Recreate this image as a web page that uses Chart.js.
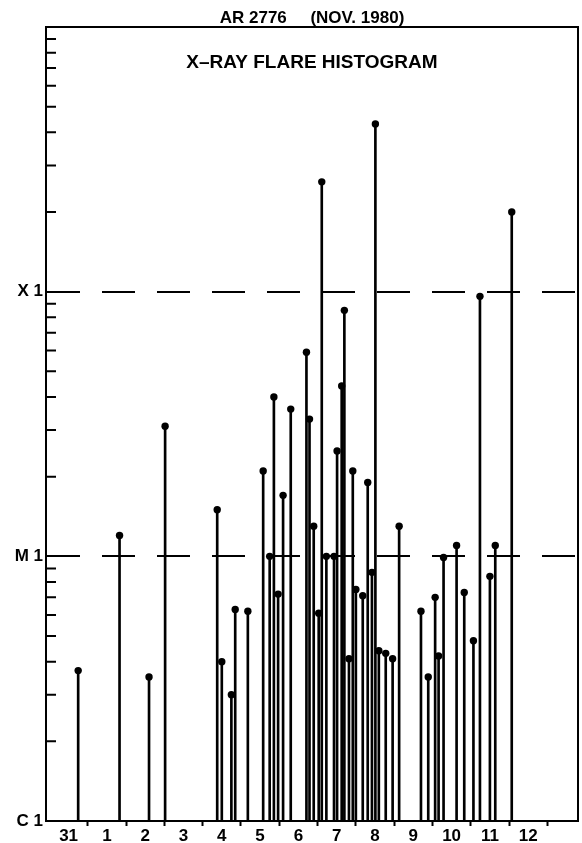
<!DOCTYPE html>
<html>
<head>
<meta charset="utf-8">
<title>AR 2776 X-ray flare histogram</title>
<script src="https://cdn.jsdelivr.net/npm/chart.js@4.4.1/dist/chart.umd.min.js"></script>
<style>
  html, body { margin: 0; padding: 0; background: #fff; }
</style>
</head>
<body>
<canvas id="flareChart" width="582" height="843"></canvas>
<script>
// flare time in days: 0-1 = Oct 31, 1-2 = Nov 1, ... (UT)
const flareDay = [0.75, 1.83, 2.60, 3.02, 4.38, 4.50, 4.75, 4.85, 5.18, 5.58, 5.75, 5.86, 5.97,
  6.10, 6.30, 6.71, 6.79, 6.90, 7.03, 7.11, 7.23, 7.43, 7.51, 7.63, 7.70, 7.82, 7.92,
  8.00, 8.18, 8.31, 8.42, 8.51, 8.60, 8.78, 8.96, 9.13, 9.70, 9.89,
  10.07, 10.16, 10.29, 10.63, 10.83, 11.07, 11.24, 11.50, 11.64, 12.07];
// peak soft x-ray flux, W/m^2
const flareFlux = [3.7e-6, 1.2e-5, 3.5e-6, 3.1e-5, 1.5e-5, 4.0e-6, 3.0e-6, 6.3e-6, 6.2e-6, 2.1e-5, 1.0e-5, 4.0e-5, 7.2e-6,
  1.7e-5, 3.6e-5, 5.9e-5, 3.3e-5, 1.3e-5, 6.1e-6, 2.6e-4, 1.0e-5, 1.0e-5, 2.5e-5, 4.4e-5, 8.5e-5, 4.1e-6, 2.1e-5,
  7.5e-6, 7.1e-6, 1.9e-5, 8.7e-6, 4.3e-4, 4.4e-6, 4.3e-6, 4.1e-6, 1.3e-5, 6.2e-6, 3.5e-6,
  7.0e-6, 4.2e-6, 9.9e-6, 1.1e-5, 7.3e-6, 4.8e-6, 9.6e-5, 8.4e-6, 1.1e-5, 2.0e-4];

const dayLabels = ['31', '1', '2', '3', '4', '5', '6', '7', '8', '9', '10', '11', '12'];
const classValues = [1e-6, 1e-5, 1e-4];
const classLabels = ['C 1', 'M 1', 'X 1'];

const FONT = '"Liberation Sans", Arial, sans-serif';

// day boundaries get a tick mark, day centres get the label
const xTicks = [];
dayLabels.forEach((_, i) => { xTicks.push(i + 0.5, i + 1); });

const framePlugin = {
  id: 'frame',
  afterDraw(chart) {
    const { ctx, chartArea: a, scales: { y } } = chart;
    ctx.save();
    ctx.strokeStyle = '#000';
    ctx.lineWidth = 2;
    ctx.beginPath();
    ctx.moveTo(a.left, a.top);
    ctx.lineTo(a.right, a.top);
    ctx.lineTo(a.right, a.bottom);
    // minor ticks, pointing inward
    for (let e = -6; e < -3; e++) {
      for (let k = 2; k <= 9; k++) {
        const py = y.getPixelForValue(k * Math.pow(10, e));
        ctx.moveTo(a.left, py);
        ctx.lineTo(a.left + 10, py);
      }
    }
    ctx.stroke();
    ctx.fillStyle = '#000';
    ctx.font = 'bold 19px ' + FONT;
    ctx.textAlign = 'center';
    ctx.textBaseline = 'middle';
    ctx.fillText('X\u2013RAY FLARE HISTOGRAM', (a.left + a.right) / 2, a.top + 36);
    ctx.restore();
  }
};

new Chart(document.getElementById('flareChart'), {
  type: 'bar',
  data: {
    datasets: [
      {
        type: 'bar',
        data: flareDay.map((d, i) => ({ x: d, y: [classValues[0], flareFlux[i]] })),
        backgroundColor: '#000',
        barThickness: 2,
        order: 2
      },
      {
        type: 'scatter',
        data: flareDay.map((d, i) => ({ x: d, y: flareFlux[i] })),
        pointRadius: 3.7,
        pointBackgroundColor: '#000',
        pointBorderWidth: 0,
        order: 1
      }
    ]
  },
  options: {
    responsive: false,
    animation: false,
    layout: { padding: { left: 0, right: 1, top: 0, bottom: 0 } },
    plugins: {
      legend: { display: false },
      tooltip: { enabled: false },
      title: {
        display: true,
        text: 'AR 2776     (NOV. 1980)',
        fullSize: false,
        color: '#000',
        font: { family: FONT, size: 17, weight: 'bold', lineHeight: 1 },
        padding: { top: 9.5, bottom: 0.5 }
      }
    },
    scales: {
      x: {
        type: 'linear',
        min: -0.09,
        max: 13.8,
        offset: false,
        afterBuildTicks: s => { s.ticks = xTicks.map(v => ({ value: v })); },
        afterFit: s => { s.height = 22; },
        grid: {
          offset: false,
          drawOnChartArea: false,
          tickLength: 5,
          tickWidth: 2,
          tickColor: c => Number.isInteger(c.tick.value) ? '#000' : 'rgba(0,0,0,0)'
        },
        border: { color: '#000', width: 2 },
        ticks: {
          autoSkip: false,
          maxRotation: 0,
          padding: 0,
          color: '#000',
          font: { family: FONT, size: 17, weight: 'bold' },
          callback: v => Number.isInteger(v) ? '' : dayLabels[Math.floor(v)]
        }
      },
      y: {
        type: 'logarithmic',
        min: 1e-6,
        max: 1e-3,
        afterBuildTicks: s => { s.ticks = classValues.map(v => ({ value: v })); },
        afterFit: s => { s.width = 46; },
        grid: {
          color: c => c.index > 0 ? '#000' : 'rgba(0,0,0,0)',
          lineWidth: 2,
          drawTicks: false
        },
        border: { color: '#000', width: 2, dash: [33, 22] },
        ticks: {
          autoSkip: false,
          padding: 3,
          color: '#000',
          font: { family: FONT, size: 17, weight: 'bold' },
          callback: (v, i) => classLabels[i]
        }
      }
    }
  },
  plugins: [framePlugin]
});
</script>
</body>
</html>
